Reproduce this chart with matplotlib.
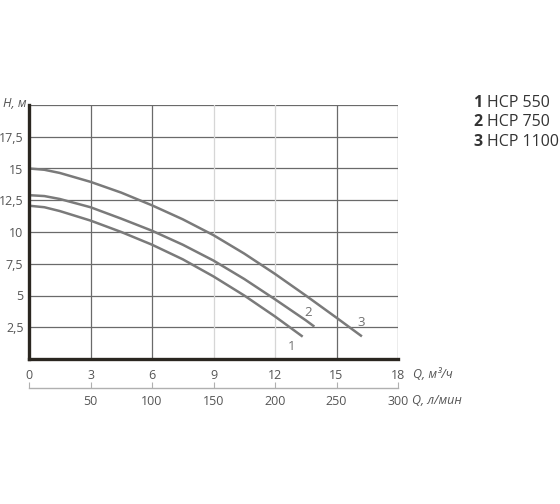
import matplotlib
matplotlib.use("Agg")
import matplotlib.pyplot as plt

plt.rcParams['font.family'] = ['Open Sans', 'DejaVu Sans']

# Data (flow Q in m3/h, head H in m)
q1 = [0, 0.75, 1.5, 3, 4.5, 6, 7.5, 9, 10.5, 12, 13.35]
h1 = [12.07, 11.95, 11.65, 10.9, 10.0, 9.0, 7.85, 6.5, 5.0, 3.35, 1.76]
q2 = [0, 0.75, 1.5, 3, 4.5, 6, 7.5, 9, 10.5, 12, 13.5, 13.92]
h2 = [12.9, 12.83, 12.6, 11.95, 11.05, 10.1, 9.0, 7.75, 6.3, 4.7, 3.05, 2.55]
q3 = [0, 0.75, 1.5, 3, 4.5, 6, 7.5, 9, 10.5, 12, 13.5, 15, 16.24]
h3 = [15.0, 14.9, 14.65, 13.95, 13.1, 12.1, 11.0, 9.75, 8.3, 6.7, 5.0, 3.25, 1.78]
curve_labels = ["1", "2", "3"]
label_pos = [(12.8, 1.0), (13.63, 3.65), (16.2, 2.85)]
models = ["HCP 550", "HCP 750", "HCP 1100"]

x_ticks = [0, 3, 6, 9, 12, 15, 18]
y_ticks = [2.5, 5, 7.5, 10, 12.5, 15, 17.5]
y_tick_labels = ["2,5", "5", "7,5", "10", "12,5", "15", "17,5"]
lpm_ticks = [0, 50, 100, 150, 200, 250, 300]
lpm_labels = ["", "50", "100", "150", "200", "250", "300"]

fig = plt.figure(figsize=(5.6, 5.04), dpi=100)
L, R, B, T = 29/560, 398/560, 1-359/504, 1-105/504
ax = fig.add_axes([L, B, R-L, T-B])
ax.set_xlim(0, 18)
ax.set_ylim(0, 20)

grid_dark = "#6a6a6a"
grid_light = "#d6d6d6"
for y in [2.5, 5, 7.5, 10, 12.5, 15, 17.5, 20]:
    ax.axhline(y, color=grid_dark, lw=0.9, zorder=1)
for x in [3, 6, 15, 18]:
    ax.axvline(x, color=grid_dark, lw=0.9, zorder=1)
for x in [9, 12]:
    ax.axvline(x, color=grid_light, lw=0.9, zorder=1)

for s in ['top', 'right']:
    ax.spines[s].set_visible(False)
for s in ['left', 'bottom']:
    ax.spines[s].set_color("#2a2620")
    ax.spines[s].set_linewidth(2.4)
    ax.spines[s].set_zorder(5)

curve_color = "#7a7a7a"
for q, h in [(q1, h1), (q2, h2), (q3, h3)]:
    ax.plot(q, h, color=curve_color, lw=1.8, solid_capstyle='butt',
            solid_joinstyle='round', zorder=3)
for lab, (x, y) in zip(curve_labels, label_pos):
    ax.text(x, y, lab, color="#707070", fontsize=9.5, ha='center', va='center')

tick_color = "#555555"
ax.set_xticks(x_ticks)
ax.set_xticklabels([str(v) for v in x_ticks])
ax.set_yticks(y_ticks)
ax.set_yticklabels(y_tick_labels)
ax.tick_params(axis='both', length=0, colors=tick_color, labelsize=9)
ax.tick_params(axis='x', pad=7)
ax.tick_params(axis='y', pad=4)

fig.text(15/560, 1-104/504, "H, м", ha='center', va='center',
         fontsize=9, style='italic', color=tick_color)
fig.text(413/560, 1-374/504, "Q, м³/ч", ha='left', va='center', fontsize=9,
         style='italic', color=tick_color)
fig.text(412/560, 1-400/504, "Q, л/мин", ha='left', va='center', fontsize=9,
         style='italic', color=tick_color)

# secondary flow axis in l/min
ax2 = fig.add_axes([L, 1-388/504, R-L, 0.0001])
ax2.set_xlim(0, 300)
ax2.set_ylim(0, 1)
ax2.patch.set_visible(False)
for s in ['top', 'right', 'left']:
    ax2.spines[s].set_visible(False)
ax2.spines['bottom'].set_color("#b0b0b0")
ax2.spines['bottom'].set_linewidth(1.0)
ax2.set_yticks([])
ax2.set_xticks(lpm_ticks)
ax2.set_xticklabels(lpm_labels)
ax2.tick_params(axis='x', direction='in', length=4, color="#b0b0b0",
                labelcolor=tick_color, labelsize=9, pad=5)

# legend text at right
for i, (num, name) in enumerate(zip(curve_labels, models)):
    y = 1 - (103 + i*19.5)/504
    fig.text(473/560, y, num, fontsize=11.5, fontweight='bold', color="#333333",
             ha='left', va='center')
    fig.text(487/560, y, name, fontsize=11.5, color="#333333", ha='left', va='center')

fig.savefig("out.png", dpi=100)
